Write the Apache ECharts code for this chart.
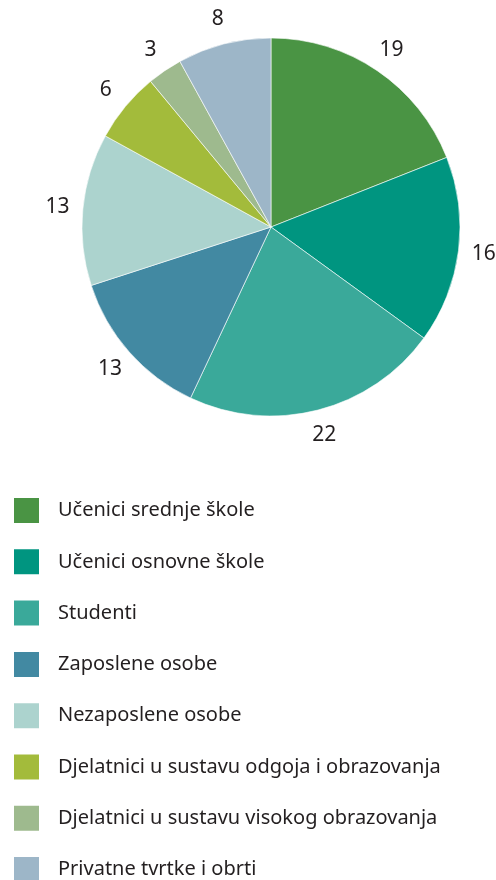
<!DOCTYPE html>
<html lang="hr">
<head>
    <meta charset="UTF-8">
    <title>Pie</title>
    <script type="text/javascript" src="https://cdn.jsdelivr.net/npm/echarts@6/dist/echarts.min.js"></script>
    <style>
        html, body { margin: 0; padding: 0; background: #fff; }
    </style>
</head>
<body>
<div id="main" style="width: 496px;height: 880px"></div>
</body>
<script>
    var categories = ["Učenici srednje škole", "Učenici osnovne škole", "Studenti", "Zaposlene osobe",
        "Nezaposlene osobe", "Djelatnici u sustavu odgoja i obrazovanja",
        "Djelatnici u sustavu visokog obrazovanja", "Privatne tvrtke i obrti"]
    var values = [19, 16, 22, 13, 13, 6, 3, 8]
    var colors = ["#4a9444", "#009580", "#3aa99a", "#4289a2", "#acd3ce", "#a3bb3b", "#9eba8e", "#9db6c8"]

    var pieData = []
    var labelData = []
    for (var i = 0; i < categories.length; i++) {
        pieData.push({name: categories[i], value: values[i], itemStyle: {color: colors[i]}})
        labelData.push({name: categories[i], value: values[i]})
    }

    var textColor = "#231f20"
    var font = "Noto Sans"

    var myChart = echarts.init(document.getElementById("main"))
    myChart.setOption({
        animation: false,
        legend: {
            orient: "vertical",
            left: 12,
            top: 496,
            height: 420,
            padding: 0,
            icon: "rect",
            itemWidth: 27,
            itemHeight: 27,
            itemGap: 22.3,
            data: categories,
            textStyle: {
                color: textColor,
                fontFamily: font,
                fontSize: 20,
                lineHeight: 27,
                padding: [0, 0, 0, 13]
            }
        },
        series: [{
            name: "pie",
            type: "pie",
            center: [271, 227],
            radius: 189,
            startAngle: 90,
            clockwise: true,
            label: {show: false},
            labelLine: {show: false},
            itemStyle: {borderColor: "#fff", borderWidth: 0.6},
            emphasis: {disabled: true},
            data: pieData
        }, {
            // invisible ring only used to place the value labels
            name: "labels",
            type: "pie",
            center: [271, 227],
            radius: [189, 234],
            startAngle: 90,
            clockwise: true,
            silent: true,
            legendHoverLink: false,
            itemStyle: {color: "rgba(0,0,0,0)"},
            label: {
                show: true,
                position: "inside",
                formatter: "{c}",
                color: textColor,
                fontFamily: font,
                fontSize: 21
            },
            labelLine: {show: false},
            emphasis: {disabled: true},
            data: labelData
        }]
    })
</script>
</html>
